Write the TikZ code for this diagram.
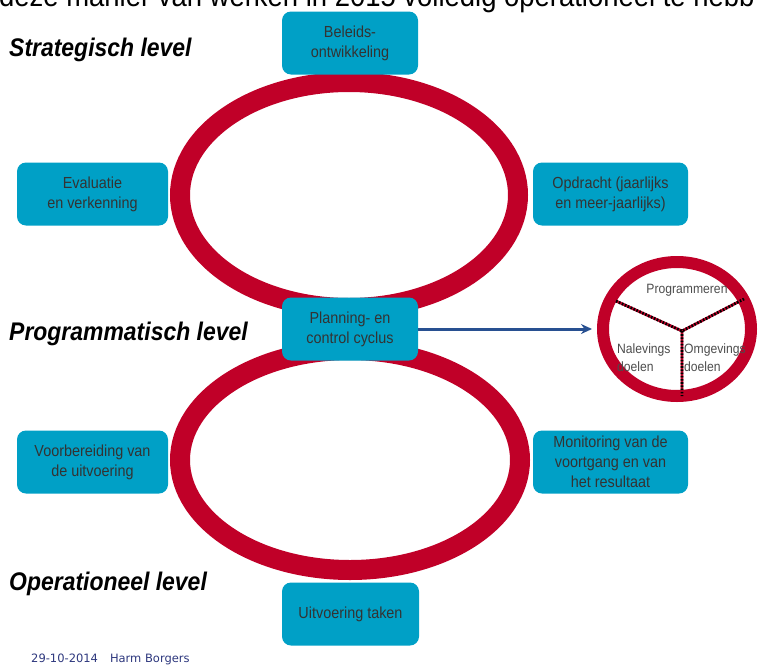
\documentclass[tikz,border=0pt]{standalone}
\usepackage{fontspec}
\setmainfont{Liberation Sans}
\newfontfamily\narrowfont[FakeStretch=0.9]{Liberation Sans}
\newfontfamily\footfont{DejaVu Sans}
\usepackage{xcolor}
\usetikzlibrary{arrows.meta,shapes.geometric}
\definecolor{cyclered}{RGB}{192,0,40}
\definecolor{stagefill}{RGB}{0,160,198}
\definecolor{arrowblue}{RGB}{40,80,145}
\definecolor{footblue}{RGB}{45,55,125}

\begin{document}
\begin{tikzpicture}[x=1pt, y=-1pt,
    stagebox/.style={rounded corners=9pt, fill=stagefill, text=black!80,
          minimum height=63pt, inner sep=2pt, align=center,
          font=\narrowfont\fontsize{16}{20}\selectfont},
    tier/.style={anchor=west, inner sep=0pt,
          font=\narrowfont\fontsize{25.5}{28}\selectfont\bfseries\itshape},
    cycleline/.style={draw=cyclered, line width=20pt},
    spoke/.style={draw=black, line width=2.8pt, dash pattern=on 1.6pt off 1.6pt,
          preaction={draw=cyclered, line width=2.8pt}},
    segtext/.style={inner sep=0pt, text=black!70, font=\narrowfont\fontsize{13.5}{18}\selectfont}]
    \useasboundingbox (0,0) rectangle (760,664);
    \clip (0,0) rectangle (760,664);

    \node[anchor=base west, inner sep=0pt, font=\narrowfont\fontsize{30.5}{32}\selectfont] (header)
          at (-1,6) {deze manier van werken in 2015 volledig operationeel te hebb};

    \draw[cycleline] (349,195) ellipse [x radius=169, y radius=113];
    \draw[cycleline] (350,460) ellipse [x radius=170, y radius=110];

    \node[tier] (strat) at (9,50) {Strategisch level};
    \node[tier] (prog) at (9,334) {Programmatisch level};
    \node[tier] (oper) at (9,584) {Operationeel level};

    \node[stagebox, minimum width=136pt] (beleid) at (350,43) {Beleids-\\ontwikkeling};
    \node[stagebox, minimum width=151pt] (evaluatie) at (92.5,194) {Evaluatie\\en verkenning};
    \node[stagebox, minimum width=155pt] (opdracht) at (610.5,194) {Opdracht (jaarlijks\\en meer-jaarlijks)};
    \node[stagebox, minimum width=136pt] (planning) at (350,329) {Planning- en\\control cyclus};
    \node[stagebox, minimum width=151pt] (voorbereiding) at (92.5,462) {Voorbereiding van\\de uitvoering};
    \node[stagebox, minimum width=155pt] (monitoring) at (610.5,462) {Monitoring van de\\voortgang en van\\het resultaat};
    \node[stagebox, minimum width=137pt] (uitvoering) at (350.5,614) {Uitvoering taken};

    \node[ellipse, draw=cyclered, line width=12pt, minimum width=148pt,
          minimum height=134pt] (focus) at (677,329) {};
    \coordinate (hub) at (682,331);
    \coordinate (armL) at (616,301);
    \coordinate (armR) at (744,299);
    \coordinate (armB) at (682,396);
    \draw[spoke] (armL) -- (hub) -- (armR) (hub) -- (armB);

    \node[segtext] (prgm) at (687,290) {Programmeren};
    \node[segtext, anchor=west, align=left] (naleving) at (617,358) {Nalevings\\doelen};
    \node[segtext, anchor=west, align=left] (omgeving) at (684,358) {Omgevings\\doelen};

    \draw[-{Stealth[length=11pt, width=10pt]}, arrowblue, line width=3pt, shorten >=5pt]
          (planning) -- (focus);

    \node[anchor=base west, inner sep=0pt, text=footblue,
          font=\footfont\fontsize{11.5}{13}\selectfont] (footer)
          at (31,662) {29-10-2014\hspace{12pt}Harm Borgers};
\end{tikzpicture}
\end{document}
